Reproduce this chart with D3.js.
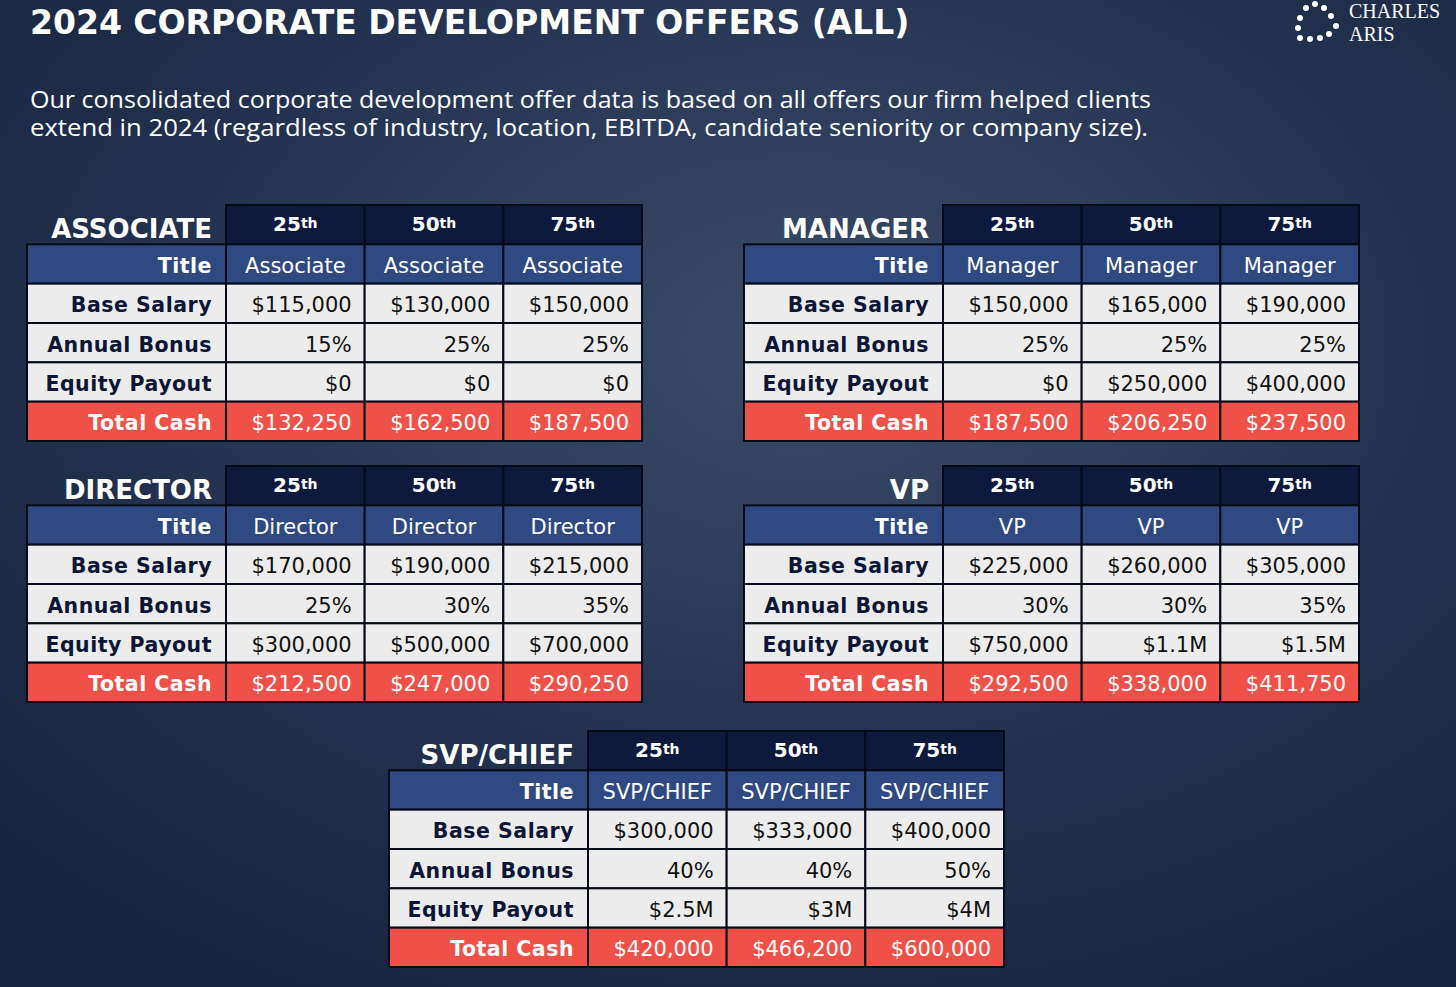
<!DOCTYPE html>
<html><head><meta charset="utf-8">
<script src="https://cdn.jsdelivr.net/npm/d3@7"></script>
<style>body{margin:0;background:#1d2c4c;}svg{display:block}</style>
</head><body>
<svg id="c" width="1456" height="987"></svg>
<script>
const percentiles = ["25th","50th","75th"];
const rowLabels = ["Title","Base Salary","Annual Bonus","Equity Payout","Total Cash"];
const levels = ["ASSOCIATE","MANAGER","DIRECTOR","VP","SVP/CHIEF"];
const titles = [["Associate","Associate","Associate"],["Manager","Manager","Manager"],["Director","Director","Director"],["VP","VP","VP"],["SVP/CHIEF","SVP/CHIEF","SVP/CHIEF"]];
const baseSalary = [["$115,000","$130,000","$150,000"],["$150,000","$165,000","$190,000"],["$170,000","$190,000","$215,000"],["$225,000","$260,000","$305,000"],["$300,000","$333,000","$400,000"]];
const annualBonus = [["15%","25%","25%"],["25%","25%","25%"],["25%","30%","35%"],["30%","30%","35%"],["40%","40%","50%"]];
const equityPayout = [["$0","$0","$0"],["$0","$250,000","$400,000"],["$300,000","$500,000","$700,000"],["$750,000","$1.1M","$1.5M"],["$2.5M","$3M","$4M"]];
const totalCash = [["$132,250","$162,500","$187,500"],["$187,500","$206,250","$237,500"],["$212,500","$247,000","$290,250"],["$292,500","$338,000","$411,750"],["$420,000","$466,200","$600,000"]];

const svg = d3.select("#c");
const F = "'DejaVu Sans', Verdana, sans-serif";
const defs = svg.append("defs");
const g = defs.append("radialGradient").attr("id","bg").attr("cx","55%").attr("cy","35%").attr("r","75%");
g.append("stop").attr("offset","0%").attr("stop-color","#3a4b6a");
g.append("stop").attr("offset","60%").attr("stop-color","#22314f");
g.append("stop").attr("offset","100%").attr("stop-color","#17233f");
svg.append("rect").attr("width",1456).attr("height",987).attr("fill","url(#bg)");

svg.append("text").attr("x",30).attr("y",34).attr("fill","#fff").attr("font-family",F).attr("font-weight","bold").attr("font-size",33).text("2024 CORPORATE DEVELOPMENT OFFERS (ALL)");
const sub = ["Our consolidated corporate development offer data is based on all offers our firm helped clients","extend in 2024 (regardless of industry, location, EBITDA, candidate seniority or company size)."];
sub.forEach((s,i)=>svg.append("text").attr("x",30).attr("y",108+i*28).attr("fill","#fff").attr("font-family","'Open Sans','Noto Sans',sans-serif").attr("font-size",24.5).attr("textLength",i===0?1121:1118).attr("lengthAdjust","spacingAndGlyphs").text(s));

const lg = svg.append("g");
[[1306,8],[1315,4],[1324,8],[1331,16],[1336,26],[1300,18],[1298,28],[1300,38],[1310,39],[1320,38],[1329,34]].forEach(p=>lg.append("circle").attr("cx",p[0]).attr("cy",p[1]).attr("r",3).attr("fill","#fff"));
lg.append("text").attr("x",1349).attr("y",18).attr("fill","#fff").attr("font-family","'Liberation Serif',serif").attr("font-size",20).text("CHARLES");
lg.append("text").attr("x",1349).attr("y",41).attr("fill","#fff").attr("font-family","'Liberation Serif',serif").attr("font-size",20).text("ARIS");

const positions = [[27,205],[744,205],[27,466],[744,466],[389,731]];
const colX = d3.scaleBand().domain(percentiles).range([0,416]);
const labelW = 199;
const rowY = d3.scaleBand().domain(["head"].concat(rowLabels)).range([0,236]);
const rowData = [titles, baseSalary, annualBonus, equityPayout, totalCash];

levels.forEach((lvl,li)=>{
  const [x0,y0] = positions[li];
  const t = svg.append("g").attr("transform",`translate(${x0},${y0})`);
  const rh = rowY.bandwidth();
  t.append("text").attr("x",labelW-14).attr("y",rh/2+13).attr("text-anchor","end").attr("fill","#fff").attr("font-family",F).attr("font-weight","bold").attr("font-size",26).text(lvl);
  percentiles.forEach(p=>{
    const cx = labelW+colX(p);
    t.append("rect").attr("x",cx).attr("y",0).attr("width",colX.bandwidth()).attr("height",rh).attr("fill","#0e1a3d").attr("stroke","#050a18").attr("stroke-width",2);
    const tx = t.append("text").attr("x",cx+colX.bandwidth()/2).attr("y",rh/2+6).attr("text-anchor","middle").attr("fill","#fff").attr("font-family",F).attr("font-weight","bold").attr("font-size",20);
    tx.append("tspan").text(p.slice(0,2));
    tx.append("tspan").attr("font-size",14).attr("dy",-3).text(p.slice(2));
  });
  rowLabels.forEach((r,ri)=>{
    const y = rowY(r);
    const fill = ri===0 ? "#2f4a80" : ri===4 ? "#ef5149" : "#ececec";
    const tc = ri===0||ri===4 ? "#fff" : "#0d1636";
    t.append("rect").attr("x",0).attr("y",y).attr("width",labelW).attr("height",rh).attr("fill",fill).attr("stroke","#050a18").attr("stroke-width",2);
    t.append("text").attr("x",labelW-14).attr("y",y+rh/2+9).attr("text-anchor","end").attr("fill",tc).attr("font-family",F).attr("font-weight","bold").attr("font-size",20.5).attr("letter-spacing",0.5).text(r);
    percentiles.forEach((p,pi)=>{
      const cx = labelW+colX(p);
      t.append("rect").attr("x",cx).attr("y",y).attr("width",colX.bandwidth()).attr("height",rh).attr("fill",fill).attr("stroke","#050a18").attr("stroke-width",2);
      const v = rowData[ri][li][pi];
      t.append("text").attr("x",ri===0?cx+colX.bandwidth()/2:cx+colX.bandwidth()-13).attr("y",y+rh/2+9).attr("text-anchor",ri===0?"middle":"end").attr("fill",tc==="#fff"?"#fff":"#111").attr("font-family",F).attr("font-size",21).text(v);
    });
  });
});
</script>
</body></html>
